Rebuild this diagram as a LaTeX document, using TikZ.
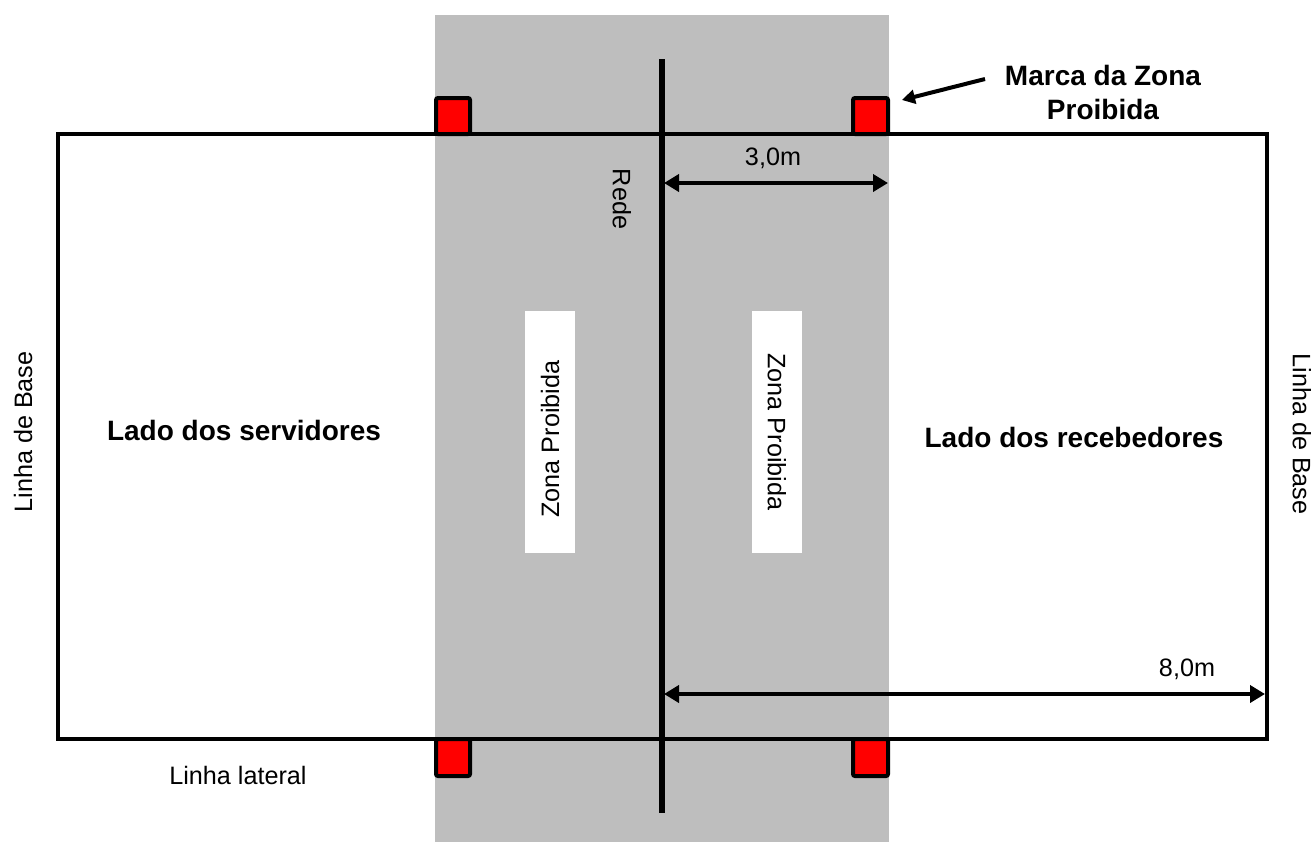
\documentclass[tikz,border=0pt]{standalone}
\usepackage{fontspec}
\setmainfont{Liberation Sans}
\usetikzlibrary{arrows.meta,positioning}
\definecolor{zonegray}{RGB}{190,190,190}
\definecolor{markred}{RGB}{255,0,0}

\begin{document}
\begin{tikzpicture}[x=0.5pt,y=-0.5pt,
      courtline/.style={line width=2.4pt},
      marksq/.style={draw,line width=2pt,fill=markred,rounded corners=1pt},
      zonebox/.style={fill=white,minimum width=121pt,minimum height=25pt,inner sep=0pt},
      lbl/.style={font=\fontsize{12.6}{15}\selectfont,inner sep=0pt},
      bold/.style={font=\fontsize{14}{17}\selectfont\bfseries,inner sep=0pt,align=center},
      dim/.style={line width=2.4pt,{Triangle[length=7.5pt,width=8.5pt]}-{Triangle[length=7.5pt,width=8.5pt]}},
      >={Triangle[length=6.5pt,width=7pt]}
    ]
      \useasboundingbox (0,0) rectangle (1314,842);
      % zona proibida (faixa cinza)
      \fill[zonegray] (435,15) rectangle (889,842);
      \node[zonebox,rotate=90] (zpl) at (550,432) {\fontsize{12.6}{15}\selectfont\kern-7pt Zona Proibida};
      \node[zonebox,rotate=-90] (zpr) at (777,432) {\fontsize{12.6}{15}\selectfont Zona Proibida};

      % quadra
      \coordinate (tl) at (58,134);
      \coordinate (br) at (1267,739);
      \draw[courtline] (tl) rectangle (br);

      % rede
      \coordinate (nettop) at (662,59);
      \coordinate (netbot) at (662,813);
      \draw[line width=2.8pt] (nettop) -- (netbot);
      \node[lbl,rotate=-90] (rede) at (622,199) {Rede};

      % marcas
      \draw[marksq] (436,98) rectangle (470,134);
      \draw[marksq] (853,98) rectangle (888,134);
      \draw[marksq] (436,739) rectangle (470,776);
      \draw[marksq] (853,739) rectangle (888,776);

      % cotas
      \coordinate (a3) at (664,183);
      \coordinate (b3) at (888,183);
      \draw[dim] (a3) -- (b3);
      \node[lbl] (d3) at (773,158) {3,0m};
      \coordinate (a8) at (664,694);
      \coordinate (b8) at (1265,694);
      \draw[dim] (a8) -- (b8);
      \node[lbl] (d8) at (1187,669) {8,0m};

      % textos
      \node[bold] (marca) at (1103,92) {Marca da Zona\\Proibida};
      \coordinate (mtip) at (902,100);
      \draw[->,line width=2pt] (985,79) -- (mtip);
      \node[bold] (serv) at (244,430) {Lado dos servidores};
      \node[bold] (rec) at (1074,437) {Lado dos recebedores};
      \node[lbl,rotate=90] (basel) at (23,432) {Linha de Base};
      \node[lbl,rotate=-90] (baser) at (1302,434) {Linha de Base};
      \node[lbl] (lateral) at (238,775) {Linha lateral};
    \end{tikzpicture}
\end{document}
